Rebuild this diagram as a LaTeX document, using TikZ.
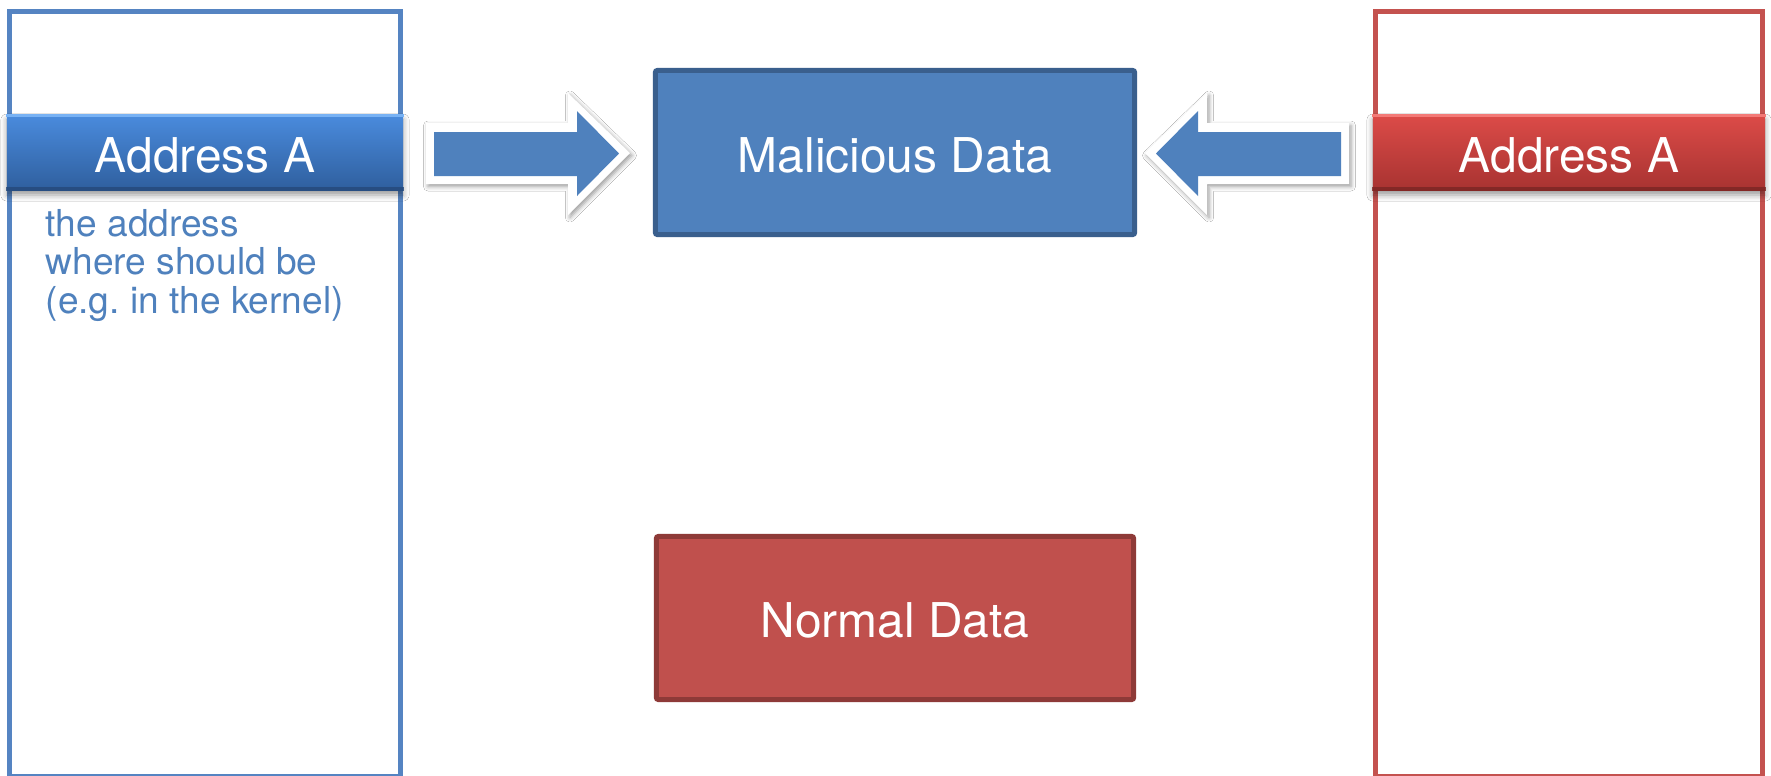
\documentclass[tikz,border=0pt]{standalone}
\usepackage{fontspec}
\setmainfont{TeX Gyre Heros}
\usetikzlibrary{shadows.blur}

\definecolor{colBlue}{HTML}{5584C2}
\definecolor{colRed}{HTML}{C4524F}
\definecolor{boxBlue}{HTML}{4F81BD}
\definecolor{boxBlueEdge}{HTML}{3A5F8D}
\definecolor{boxRed}{HTML}{C0504D}
\definecolor{boxRedEdge}{HTML}{8E3A38}
\definecolor{descBlue}{HTML}{4F81BD}
\definecolor{hdBlueTop}{HTML}{4A8BDD}
\definecolor{hdBlueMid}{HTML}{3E7BCC}
\definecolor{hdBlueBot}{HTML}{2F5F9E}
\definecolor{hdBlueHi}{HTML}{78B2F4}
\definecolor{hdBlueLo}{HTML}{25497A}
\definecolor{hdRedTop}{HTML}{DC4B48}
\definecolor{hdRedMid}{HTML}{CF4340}
\definecolor{hdRedBot}{HTML}{A83331}
\definecolor{hdRedHi}{HTML}{F37A77}
\definecolor{hdRedLo}{HTML}{7A2523}

\begin{document}
\begin{tikzpicture}[x=0.01cm, y=-0.01cm,
  memcol/.style={rectangle, line width=0.05cm, fill=white, inner sep=0pt,
    minimum height=7.645cm},
  bigtext/.style={font=\fontsize{13.63}{16}\selectfont, text=white,
    text height=0.39cm, text depth=0cm},
  header/.style={rectangle, bigtext, inner sep=0pt, minimum height=0.75cm,
    blur shadow={shadow xshift=0pt, shadow yshift=-0.05cm,
      shadow opacity=40, shadow blur radius=0.06cm}},
  databox/.style={rectangle, bigtext, line width=0.05cm, rounded corners=0.02cm,
    inner sep=0pt},
  desc/.style={anchor=base west, inner sep=0pt, text=descBlue,
    font=\fontsize{10.55}{12.6}\selectfont},
  arrowrim/.style={fill=white,
    blur shadow={shadow xshift=0.02cm, shadow yshift=-0.025cm,
      shadow opacity=40, shadow blur radius=0.045cm}},
  arrowbody/.style={fill=boxBlue}
]
  % canvas
  \clip (0,0) rectangle (1771,775);
  \useasboundingbox (0,0) rectangle (1771,775);
  \fill[white] (0,0) rectangle (1771,775);

  % memory columns
  \node[memcol, draw=colBlue, minimum width=3.91cm] (lcol) at (205,393.75) {};
  \node[memcol, draw=colRed, minimum width=3.87cm] (rcol) at (1569,393.75) {};

  % address headers
  \node[header, minimum width=3.96cm, top color=hdBlueTop, middle color=hdBlueMid,
    bottom color=hdBlueBot] (lhd) at (205,152.5) {Address A};
  \node[header, minimum width=3.92cm, top color=hdRedTop, middle color=hdRedMid,
    bottom color=hdRedBot] (rhd) at (1569,152.5) {Address A};
  \draw[hdBlueHi, line width=0.03cm] ([yshift=-0.015cm]lhd.north west) -- ([yshift=-0.015cm]lhd.north east);
  \draw[hdBlueLo, line width=0.035cm, opacity=0.8] ([yshift=0.0175cm]lhd.south west) -- ([yshift=0.0175cm]lhd.south east);
  \draw[hdRedHi, line width=0.03cm] ([yshift=-0.015cm]rhd.north west) -- ([yshift=-0.015cm]rhd.north east);
  \draw[hdRedLo, line width=0.035cm, opacity=0.8] ([yshift=0.0175cm]rhd.south west) -- ([yshift=0.0175cm]rhd.south east);

  % description under the left header
  \node[desc] (d1) at (45,236) {the address};
  \node[desc] (d2) at (45,274.5) {where should be};
  \node[desc] (d3) at (45,313) {(e.g.\ in the kernel)};

  % data blocks
  \node[databox, fill=boxBlue, draw=boxBlueEdge, minimum width=4.79cm,
    minimum height=1.64cm] (mal) at (895,152.5) {Malicious Data};
  \node[databox, fill=boxRed, draw=boxRedEdge, minimum width=4.77cm,
    minimum height=1.63cm] (nor) at (895,618) {Normal Data};

  % block arrow from the left column towards the malicious data
  \path[arrowrim] (426,123) -- (568,123) -- (568,93) -- (630,153) -- (568,215)
    -- (568,184) -- (426,184) -- cycle;
  \path[arrowbody] (434,132) -- (577,132) -- (577,111) -- (619,153.5) -- (577,196)
    -- (577,176) -- (434,176) -- cycle;

  % block arrow from the right column towards the malicious data
  \path[arrowrim] (1349,123) -- (1207,123) -- (1207,93) -- (1145,153) -- (1207,215)
    -- (1207,184) -- (1349,184) -- cycle;
  \path[arrowbody] (1341,132) -- (1198,132) -- (1198,111) -- (1156,153.5) -- (1198,196)
    -- (1198,176) -- (1341,176) -- cycle;
\end{tikzpicture}
\end{document}
